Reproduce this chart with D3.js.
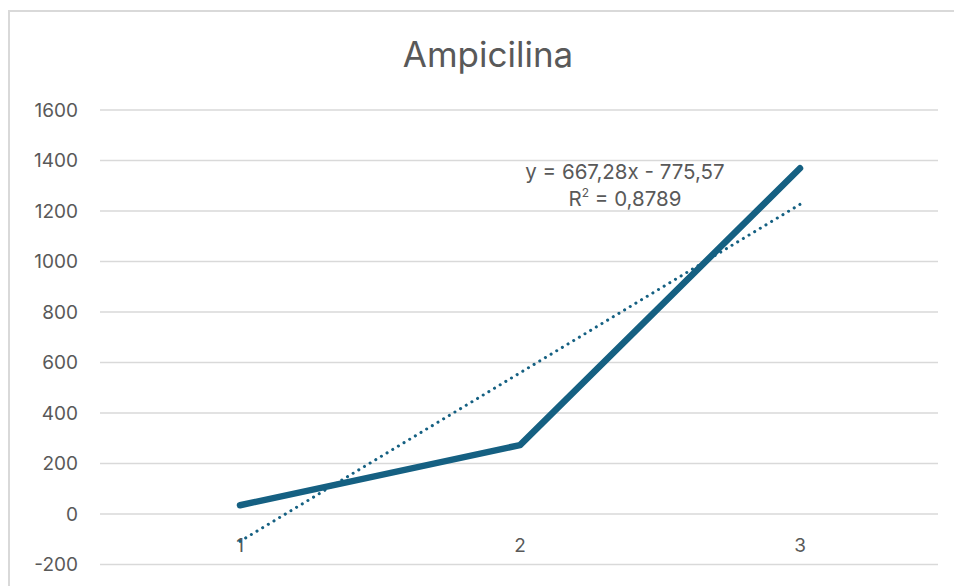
<!DOCTYPE html>
<html lang="es">
<head>
    <meta charset="UTF-8">
    <title>Ampicilina</title>
    <script src="https://d3js.org/d3.v7.min.js"></script>
    <style>
        body {
            margin: 0;
            background: #fff;
        }
        text {
            font-family: 'Inter', 'Roboto', sans-serif;
        }
        .grid line {
            stroke: #d9d9d9;
            stroke-width: 1.5px;
        }
        .tick-label {
            fill: #595959;
            font-size: 19px;
        }
    </style>
</head>
<body>
    <svg id="chart"></svg>

    <script>
        // Datos
        const categorias = ["1", "2", "3"];
        const valores = [34.7, 273, 1369.3];
        const ticksY = [-200, 0, 200, 400, 600, 800, 1000, 1200, 1400, 1600];
        const pendiente = 667.28;
        const intercepto = -775.57;
        const ecuacion = "y = 667,28x - 775,57";
        const r2 = "0,8789";

        const width = 954, height = 586;
        const margin = {top: 110, right: 16, bottom: 22, left: 100};

        const svg = d3.select("#chart")
            .attr("width", width)
            .attr("height", height);

        // Borde del área del gráfico
        svg.append("rect")
            .attr("x", 9)
            .attr("y", 11)
            .attr("width", width)
            .attr("height", height)
            .attr("fill", "none")
            .attr("stroke", "#d9d9d9")
            .attr("stroke-width", 2);

        // Título
        svg.append("text")
            .attr("x", 488)
            .attr("y", 67)
            .attr("text-anchor", "middle")
            .attr("fill", "#595959")
            .attr("font-size", 35)
            .text("Ampicilina");

        const x = d3.scaleBand()
            .domain(categorias)
            .range([margin.left, 940]);

        const y = d3.scaleLinear()
            .domain([-200, 1600])
            .range([564.5, margin.top]);

        // Líneas de cuadrícula
        svg.append("g")
            .attr("class", "grid")
            .selectAll("line")
            .data(ticksY)
            .join("line")
            .attr("x1", margin.left)
            .attr("x2", 938)
            .attr("y1", d => y(d))
            .attr("y2", d => y(d));

        // Etiquetas del eje Y
        svg.append("g")
            .selectAll("text")
            .data(ticksY)
            .join("text")
            .attr("class", "tick-label")
            .attr("x", 78)
            .attr("y", d => y(d))
            .attr("dy", "0.36em")
            .attr("text-anchor", "end")
            .text(d => d);

        // Etiquetas del eje X (cruzan en 0)
        svg.append("g")
            .selectAll("text")
            .data(categorias)
            .join("text")
            .attr("class", "tick-label")
            .attr("x", d => x(d) + x.bandwidth() / 2)
            .attr("y", y(0) + 38)
            .attr("text-anchor", "middle")
            .text(d => d);

        const cx = (d, i) => x(categorias[i]) + x.bandwidth() / 2;

        // Serie
        const linea = d3.line()
            .x(cx)
            .y(d => y(d));

        svg.append("path")
            .datum(valores)
            .attr("d", linea)
            .attr("fill", "none")
            .attr("stroke", "#156082")
            .attr("stroke-width", 6.5)
            .attr("stroke-linecap", "round")
            .attr("stroke-linejoin", "round");

        // Línea de tendencia lineal
        const tendencia = categorias.map((c, i) => pendiente * (i + 1) + intercepto);
        svg.append("path")
            .datum(tendencia)
            .attr("d", linea)
            .attr("fill", "none")
            .attr("stroke", "#156082")
            .attr("stroke-width", 3)
            .attr("stroke-linecap", "round")
            .attr("stroke-dasharray", "0.1 6.5");

        // Ecuación
        const eq = svg.append("text")
            .attr("x", 625)
            .attr("y", 179)
            .attr("text-anchor", "middle")
            .attr("fill", "#595959")
            .attr("font-size", 20.5);
        eq.append("tspan").text(ecuacion);

        const r = svg.append("text")
            .attr("x", 625)
            .attr("y", 206)
            .attr("text-anchor", "middle")
            .attr("fill", "#595959")
            .attr("font-size", 20.5);
        r.append("tspan").text("R");
        r.append("tspan").attr("font-size", 12).attr("dy", -9).text("2");
        r.append("tspan").attr("dy", 9).text(" = " + r2);
    </script>
</body>
</html>
